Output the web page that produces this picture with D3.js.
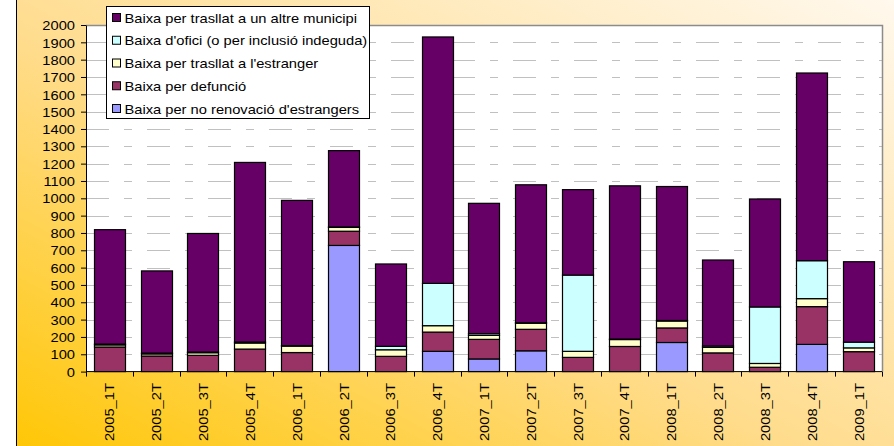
<!DOCTYPE html>
<html>
<head>
<meta charset="utf-8">
<script src="https://cdn.jsdelivr.net/npm/d3@7"></script>
<style>
  body { margin: 0; background: #fff; }
  text { font-family: "Liberation Sans", Arial, sans-serif; font-size: 13px; fill: #000; }
</style>
</head>
<body>
<div id="chart"></div>
<script>
var width = 894;
var height = 446;

var quarters = ["2005_1T", "2005_2T", "2005_3T", "2005_4T", "2006_1T", "2006_2T", "2006_3T", "2006_4T",
  "2007_1T", "2007_2T", "2007_3T", "2007_4T", "2008_1T", "2008_2T", "2008_3T", "2008_4T", "2009_1T"];

// values, bottom segment first
var noRenovacio = [0, 0, 0, 0, 0, 728, 0, 117, 73, 120, 0, 0, 168, 0, 0, 157, 0];
var defuncio    = [142, 90, 94, 130, 110, 82, 88, 111, 113, 124, 82, 145, 84, 108, 25, 218, 115];
var estranger   = [12, 12, 15, 35, 37, 22, 38, 37, 23, 35, 35, 40, 40, 32, 22, 46, 22];
var ofici       = [5, 5, 4, 6, 3, 3, 20, 244, 10, 3, 440, 3, 3, 8, 326, 219, 33];
var municipi    = [660, 474, 684, 1036, 838, 440, 475, 1422, 752, 796, 493, 884, 773, 496, 623, 1083, 464];

var seriesNames = [
  "Baixa per no renovació d'estrangers",
  "Baixa per defunció",
  "Baixa per trasllat a l'estranger",
  "Baixa d'ofici (o per inclusió indeguda)",
  "Baixa per trasllat a un altre municipi"
];
var seriesColors = ["#9999FF", "#993366", "#FFFFCC", "#CCFFFF", "#660066"];
var seriesKeys = ["noRenovacio", "defuncio", "estranger", "ofici", "municipi"];

var rows = quarters.map(function(q, i) {
  return {
    quarter: q,
    noRenovacio: noRenovacio[i],
    defuncio: defuncio[i],
    estranger: estranger[i],
    ofici: ofici[i],
    municipi: municipi[i]
  };
});

var plot = { left: 86, right: 882, top: 25, bottom: 371.6 };
var sx = 1.13; // the text in the picture is a bit wide

var svg = d3.select("#chart")
  .append("svg")
  .attr("width", width)
  .attr("height", height);

var defs = svg.append("defs");
var grad = defs.append("linearGradient")
  .attr("id", "bg")
  .attr("x1", 0).attr("y1", 1)
  .attr("x2", 1).attr("y2", 0);
grad.append("stop").attr("offset", 0).attr("stop-color", "#FFC600");
grad.append("stop").attr("offset", 0.45).attr("stop-color", "#FFDC8C");
grad.append("stop").attr("offset", 1).attr("stop-color", "#FFF9F0");

// chart area, runs off the top, right and bottom of the picture
svg.append("rect")
  .attr("x", 16.5)
  .attr("y", -5)
  .attr("width", 900)
  .attr("height", 470)
  .style("fill", "url(#bg)")
  .style("stroke", "#000");

svg.append("rect")
  .attr("x", plot.left)
  .attr("y", plot.top)
  .attr("width", plot.right - plot.left)
  .attr("height", plot.bottom - plot.top)
  .style("fill", "#fff");

var x = d3.scaleBand()
  .domain(quarters)
  .range([plot.left, plot.right])
  .paddingInner(0.333)
  .paddingOuter(0.167);

var y = d3.scaleLinear()
  .domain([0, 2000])
  .range([plot.bottom, plot.top]);

// gridlines
svg.append("g")
  .selectAll("line")
  .data(y.ticks(20).filter(function(d) { return d > 0 && d < 2000; }))
  .enter()
  .append("line")
  .attr("x1", plot.left)
  .attr("x2", plot.right)
  .attr("y1", function(d) { return Math.round(y(d)) + 0.5; })
  .attr("y2", function(d) { return Math.round(y(d)) + 0.5; })
  .style("stroke", "#C0C0C0")
  .style("stroke-dasharray", "23,15,8,15");

// plot border, top and right
svg.append("path")
  .attr("d", "M" + plot.left + "," + (plot.top + 0.5) + "H" + (plot.right + 0.5) + "V" + plot.bottom)
  .style("fill", "none")
  .style("stroke", "#8C8C8C")
  .style("stroke-width", 1.5);

var stack = d3.stack().keys(seriesKeys);
var layers = stack(rows);

svg.append("g")
  .selectAll("g")
  .data(layers)
  .enter()
  .append("g")
  .style("fill", function(d, i) { return seriesColors[i]; })
  .selectAll("rect")
  .data(function(d) { return d.filter(function(p) { return p[1] - p[0] > 0; }); })
  .enter()
  .append("rect")
  .attr("x", function(d) { return Math.round(x(d.data.quarter)) + 0.5; })
  .attr("width", Math.round(x.bandwidth()))
  .attr("y", function(d) { return y(d[1]); })
  .attr("height", function(d) { return y(d[0]) - y(d[1]); })
  .style("stroke", "#000")
  .style("stroke-width", 1.2);

// y axis
var yAxis = svg.append("g")
  .attr("transform", "translate(" + plot.left + ",0)")
  .call(d3.axisLeft(y).ticks(20).tickFormat(d3.format("d")).tickSize(5).tickSizeOuter(0));
yAxis.select(".domain").style("stroke", "#000");
yAxis.selectAll(".tick line").style("stroke", "#000");
yAxis.selectAll(".tick text")
  .attr("x", null)
  .attr("dy", "0.36em")
  .attr("transform", "translate(-11,0) scale(" + sx + ",1)")
  .style("font-family", "'Liberation Sans', Arial, sans-serif")
  .style("font-size", "13px");

// x axis with ticks between the categories
var xAxis = svg.append("g")
  .attr("transform", "translate(0," + plot.bottom + ")");
xAxis.append("line")
  .attr("x1", plot.left)
  .attr("x2", plot.right)
  .style("stroke", "#000");
xAxis.selectAll(".sep")
  .data(quarters.concat(["end"]))
  .enter()
  .append("line")
  .attr("class", "sep")
  .attr("x1", function(d, i) { return Math.round(plot.left + i * x.step()) + 0.5; })
  .attr("x2", function(d, i) { return Math.round(plot.left + i * x.step()) + 0.5; })
  .attr("y2", 5)
  .style("stroke", "#000");
xAxis.selectAll(".lbl")
  .data(quarters)
  .enter()
  .append("text")
  .attr("class", "lbl")
  .attr("text-anchor", "end")
  .attr("transform", function(d) {
    return "translate(" + (x(d) + x.bandwidth() / 2 + 5) + ",11.5) rotate(-90) scale(" + sx + ",1)";
  })
  .text(function(d) { return d; });

// legend
var legend = svg.append("g").attr("transform", "translate(106.5,6.5)");
legend.append("rect")
  .attr("width", 263)
  .attr("height", 112)
  .style("fill", "#fff")
  .style("stroke", "#000");

var li = legend.selectAll(".item")
  .data(seriesKeys.slice().reverse())
  .enter()
  .append("g")
  .attr("class", "item")
  .attr("transform", function(d, i) { return "translate(0," + (11 + i * 22.75) + ")"; });

li.append("rect")
  .attr("x", 6)
  .attr("y", -4)
  .attr("width", 8)
  .attr("height", 8)
  .style("fill", function(d) { return seriesColors[seriesKeys.indexOf(d)]; })
  .style("stroke", "#000");

li.append("text")
  .attr("transform", "translate(18,5) scale(" + sx + ",1)")
  .text(function(d) { return seriesNames[seriesKeys.indexOf(d)]; });
</script>
</body>
</html>
